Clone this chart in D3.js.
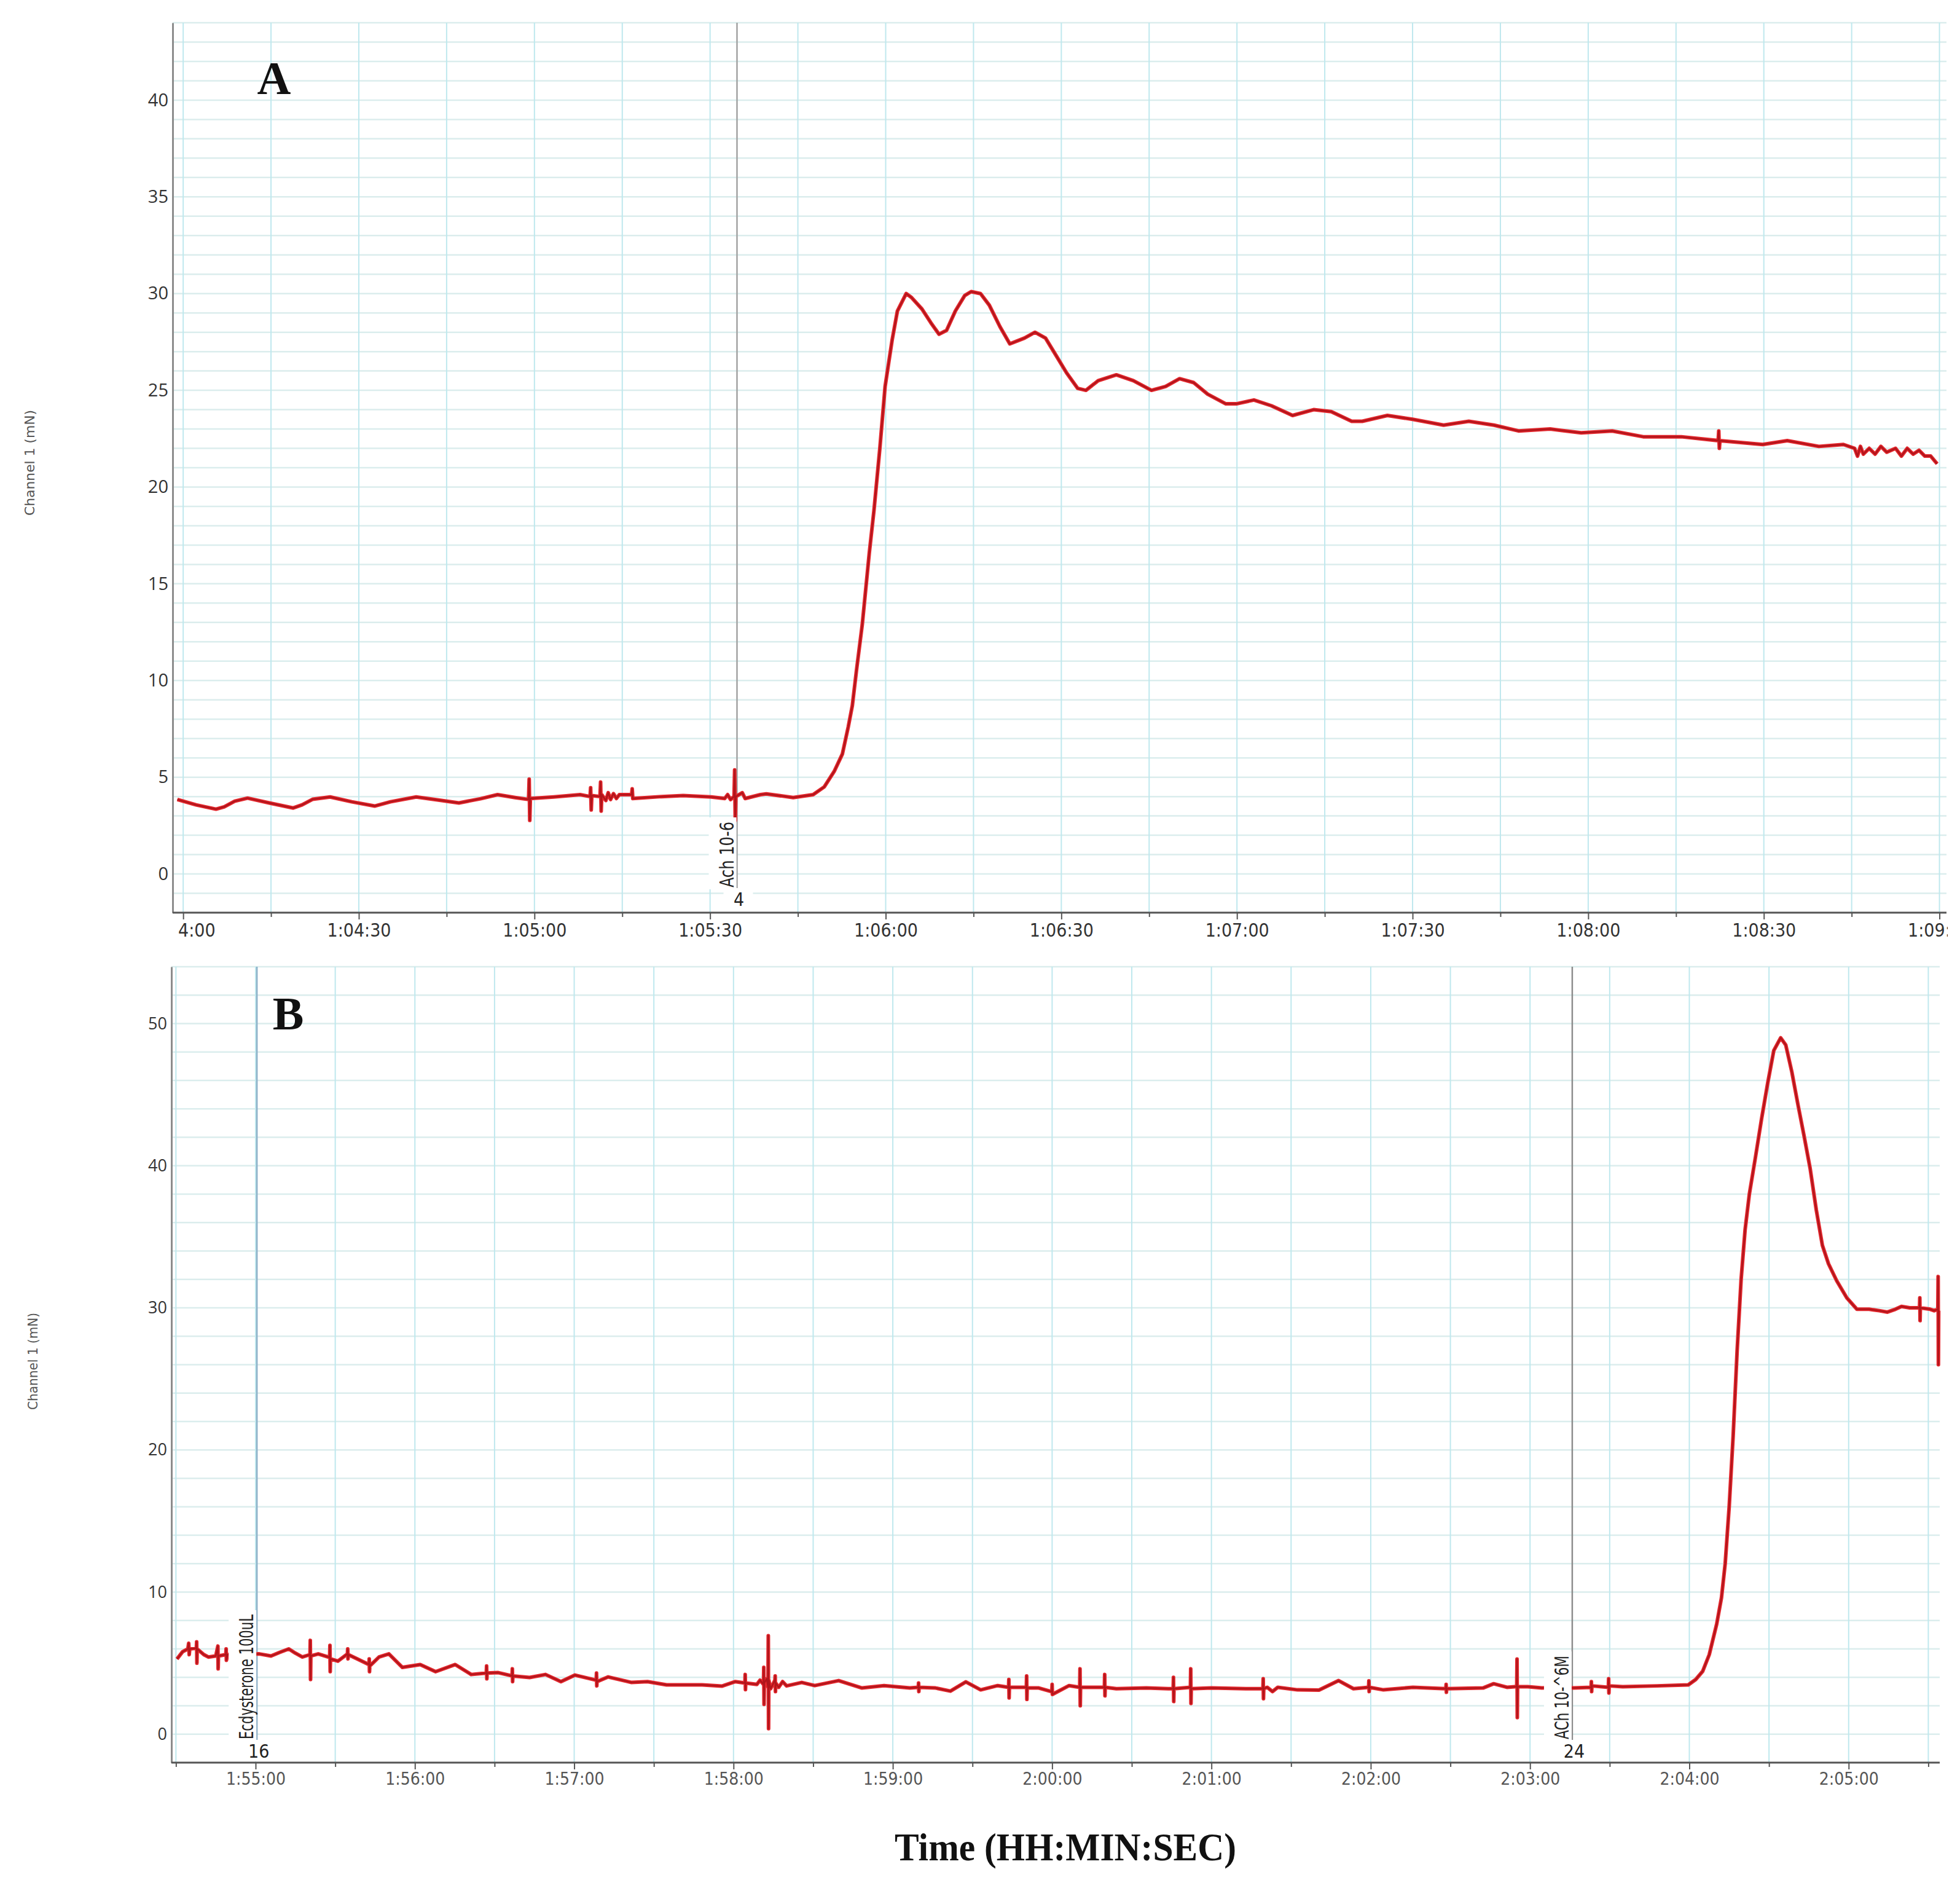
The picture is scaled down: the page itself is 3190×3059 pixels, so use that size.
<!DOCTYPE html>
<html>
<head>
<meta charset="utf-8">
<script src="https://cdn.jsdelivr.net/npm/d3@7"></script>
<style>
  html, body { margin: 0; padding: 0; background: #fff; }
  svg { display: block; }
</style>
</head>
<body>
<script>
// Panel A trace: [seconds after 1:04:00, force mN]
const traceA = [
  [-1.0, 3.85], [2.2, 3.57], [5.6, 3.35], [7.0, 3.47], [8.8, 3.76], [11.0, 3.92], [14.7, 3.67],
  [18.8, 3.41], [20.3, 3.57], [22.1, 3.86], [25.1, 3.98], [28.8, 3.73], [32.7, 3.51], [35.4, 3.73],
  [39.8, 3.98], [43.4, 3.83], [47.1, 3.67], [50.8, 3.89], [53.7, 4.10], [56.7, 3.95],
  [59.0, 3.85], [59.1, 4.9], [59.2, 2.77], [59.3, 3.9], [63.3, 3.98], [66.0, 4.05], [67.8, 4.1],
  [69.5, 4.0], [69.6, 4.46], [69.7, 3.31], [69.8, 4.05], [71.2, 4.0], [71.3, 4.75], [71.4, 3.25],
  [71.5, 4.1], [72.2, 3.8], [72.6, 4.2], [73.0, 3.85], [73.5, 4.15], [74.0, 3.9], [74.5, 4.1],
  [76.6, 4.1], [76.7, 4.4], [76.8, 3.9], [81.7, 4.0], [85.4, 4.05], [90.2, 3.98], [92.5, 3.9],
  [93.0, 4.1], [93.5, 3.85], [94.1, 4.0], [94.2, 5.38], [94.3, 2.77], [94.4, 4.0], [95.5, 4.2],
  [96.0, 3.9], [98.6, 4.1], [99.6, 4.14], [104.2, 3.95], [107.6, 4.1], [109.5, 4.5], [111.2, 5.3],
  [112.6, 6.2], [113.6, 7.6], [114.3, 8.7], [115.0, 10.5], [116.0, 12.9], [117.2, 16.6],
  [118.0, 18.8], [119.0, 22.0], [119.9, 25.2], [121.1, 27.6], [122.0, 29.1], [123.5, 30.0],
  [124.4, 29.8], [126.2, 29.2], [127.7, 28.5], [129.1, 27.9], [130.4, 28.1], [131.9, 29.1],
  [133.5, 29.9], [134.6, 30.1], [136.2, 30.0], [137.7, 29.4], [139.5, 28.3], [141.2, 27.4],
  [143.7, 27.7], [145.5, 28.0], [147.3, 27.7], [149.1, 26.8], [150.9, 25.9], [152.8, 25.1],
  [154.2, 25.0], [156.3, 25.5], [159.4, 25.8], [162.3, 25.5], [165.4, 25.0], [167.8, 25.2],
  [170.2, 25.6], [172.6, 25.4], [175.0, 24.8], [178.1, 24.3], [179.9, 24.3], [182.9, 24.5],
  [185.9, 24.2], [189.5, 23.7], [193.1, 24.0], [196.1, 23.9], [199.6, 23.4], [201.4, 23.4],
  [205.7, 23.7], [210.0, 23.5], [215.3, 23.2], [219.6, 23.4], [223.9, 23.2], [228.1, 22.9],
  [233.5, 23.0], [238.8, 22.8], [244.1, 22.9], [249.4, 22.6], [255.9, 22.6], [262.2, 22.4],
  [262.3, 22.9], [262.4, 22.0], [262.5, 22.4], [269.8, 22.2], [274.0, 22.4], [279.4, 22.1],
  [283.6, 22.2], [285.5, 22.0], [286.0, 21.6], [286.5, 22.1], [287.0, 21.7], [288.0, 22.0],
  [289.0, 21.7], [290.0, 22.1], [291.0, 21.8], [292.5, 22.0], [293.5, 21.6], [294.5, 22.0],
  [295.5, 21.7], [296.5, 21.9], [297.5, 21.6], [298.5, 21.6], [299.6, 21.2]
];

// Panel B trace: [seconds after 1:55:00, force mN]
const traceB = [
  [-29.6, 5.29], [-27.5, 5.8], [-25.5, 6.0], [-25.2, 6.4], [-25.0, 5.6], [-24.8, 6.0],
  [-22.3, 6.05], [-22.2, 6.5], [-22.1, 5.0], [-22.0, 6.0], [-19.5, 5.6], [-17.8, 5.43],
  [-15.0, 5.5], [-14.2, 6.2], [-14.1, 4.6], [-14.0, 5.5], [-11.2, 5.6], [-11.1, 6.0],
  [-11.0, 5.2], [-10.5, 5.6], [-5.0, 5.6], [1.4, 5.65], [5.8, 5.5], [9.0, 5.75], [12.5, 6.0],
  [15.0, 5.7], [17.6, 5.43], [20.5, 5.6], [20.6, 6.6], [20.7, 3.85], [20.8, 5.5], [23.6, 5.65],
  [27.9, 5.4], [28.0, 6.25], [28.1, 4.4], [28.2, 5.3], [31.0, 5.14], [34.6, 5.65], [34.7, 6.0],
  [34.8, 5.3], [34.9, 5.6], [38.4, 5.29], [42.7, 4.9], [42.8, 5.3], [42.9, 4.4], [43.0, 4.8],
  [46.5, 5.43], [50.2, 5.65], [55.3, 4.7], [62.0, 4.9], [67.8, 4.4], [75.2, 4.9], [81.2, 4.2],
  [86.9, 4.3], [87.0, 4.8], [87.1, 3.9], [87.2, 4.3], [91.4, 4.33], [96.6, 4.1], [96.7, 4.6],
  [96.8, 3.7], [96.9, 4.1], [103.2, 3.99], [109.2, 4.2], [115.0, 3.7], [120.3, 4.16],
  [128.3, 3.8], [128.4, 4.3], [128.5, 3.4], [128.6, 3.7], [132.8, 4.03], [141.6, 3.64],
  [147.6, 3.7], [154.8, 3.47], [168.2, 3.47], [175.6, 3.38], [180.7, 3.7], [184.3, 3.6],
  [184.4, 4.2], [184.5, 3.14], [184.6, 3.6], [188.8, 3.5], [190.0, 3.8], [191.3, 3.5],
  [191.4, 4.7], [191.5, 2.1], [191.6, 3.6], [192.5, 3.9], [193.0, 3.3], [193.1, 6.93],
  [193.2, 0.39], [193.3, 3.8], [194.0, 3.2], [195.6, 3.8], [195.7, 4.1], [195.8, 3.0],
  [195.9, 3.6], [197.0, 3.3], [198.5, 3.7], [200.0, 3.4], [205.7, 3.64], [210.6, 3.42],
  [219.6, 3.77], [228.4, 3.25], [236.7, 3.42], [246.4, 3.25], [249.6, 3.3], [249.7, 3.6],
  [249.8, 3.0], [249.9, 3.3], [256.1, 3.25], [261.7, 3.03], [267.5, 3.68], [273.1, 3.12],
  [279.5, 3.42], [283.6, 3.3], [283.7, 3.85], [283.8, 2.55], [283.9, 3.3], [290.3, 3.3],
  [290.4, 4.1], [290.5, 2.45], [290.6, 3.25], [295.0, 3.25], [299.9, 2.99], [300.0, 3.5],
  [300.1, 2.8], [306.4, 3.42], [310.4, 3.3], [310.5, 4.6], [310.6, 2.0], [310.7, 3.3],
  [319.7, 3.3], [319.8, 4.2], [319.9, 2.7], [320.0, 3.3], [324.2, 3.2], [335.5, 3.25],
  [343.8, 3.2], [345.6, 3.2], [345.7, 4.0], [345.8, 2.3], [345.9, 3.2], [352.1, 3.3],
  [352.2, 4.6], [352.3, 2.16], [352.4, 3.2], [360.0, 3.25], [373.0, 3.2], [379.4, 3.2],
  [379.5, 3.9], [379.6, 2.5], [379.7, 3.2], [381.0, 3.3], [383.0, 3.0], [385.0, 3.3],
  [392.4, 3.12], [400.5, 3.1], [407.9, 3.77], [413.5, 3.2], [419.2, 3.3], [419.3, 3.75],
  [419.4, 3.0], [419.5, 3.3], [424.8, 3.12], [435.9, 3.3], [448.3, 3.2], [448.4, 3.5],
  [448.5, 2.95], [448.6, 3.2], [462.3, 3.25], [466.3, 3.55], [471.3, 3.3], [475.0, 3.35],
  [475.1, 5.29], [475.2, 1.17], [475.3, 3.35], [479.2, 3.34], [484.5, 3.25], [490.0, 3.3],
  [496.4, 3.25], [503.0, 3.3], [503.1, 3.7], [503.2, 3.0], [503.3, 3.4], [509.5, 3.3],
  [509.6, 3.9], [509.7, 2.9], [509.8, 3.4], [514.9, 3.34], [527.8, 3.4], [539.6, 3.47],
  [542.4, 3.85], [545.0, 4.42], [547.5, 5.6], [550.3, 7.75], [552.1, 9.6], [553.5, 12.0],
  [555.0, 16.0], [556.5, 21.0], [558.0, 27.0], [559.5, 32.0], [561.0, 35.5], [562.6, 38.0],
  [564.9, 40.6], [567.2, 43.3], [569.5, 45.8], [571.8, 48.1], [574.4, 49.0], [576.3, 48.5],
  [578.6, 46.6], [580.9, 44.3], [583.2, 42.1], [585.5, 39.8], [587.8, 36.9], [590.1, 34.4],
  [592.4, 33.1], [595.5, 31.9], [599.3, 30.7], [603.1, 29.9], [607.7, 29.9], [611.5, 29.8],
  [614.6, 29.7], [617.6, 29.9], [619.9, 30.1], [623.0, 30.0], [626.7, 30.0], [626.8, 30.7],
  [626.9, 29.1], [627.0, 30.0], [630.7, 29.9], [632.2, 29.8], [633.6, 29.9], [633.7, 32.2],
  [633.8, 26.0], [633.9, 29.8]
];

const xLabelsA = ["1:04:00", "1:04:30", "1:05:00", "1:05:30", "1:06:00", "1:06:30",
                  "1:07:00", "1:07:30", "1:08:00", "1:08:30", "1:09:00"];
const xLabelsB = ["1:55:00", "1:56:00", "1:57:00", "1:58:00", "1:59:00", "2:00:00",
                  "2:01:00", "2:02:00", "2:03:00", "2:04:00", "2:05:00"];
const yLabelsA = [0, 5, 10, 15, 20, 25, 30, 35, 40];
const yLabelsB = [0, 10, 20, 30, 40, 50];

// event markers: seconds after panel start
const markersA = [{ t: 94.6, text: "Ach 10-6", num: "4" }];
const markersB = [
  { t: 0.5, text: "Ecdysterone 100uL", num: "16" },
  { t: 495.9, text: "ACh 10-^6M", num: "24" }
];

const condFont = '"DejaVu Sans Condensed", "Liberation Sans Narrow", "DejaVu Sans", sans-serif';
const serifFont = '"Liberation Serif", "DejaVu Serif", serif';

function hms(s) {
  const p = s.split(":").map(Number);
  return p[0] * 3600 + p[1] * 60 + p[2];
}

const svg = d3.select("body").append("svg")
  .attr("width", 3190).attr("height", 3059)
  .attr("viewBox", "0 0 3190 3059");
const defs = svg.append("defs");

function drawPanel(p) {
  const start = hms(p.xLabels[0]);
  const x = d3.scaleLinear().domain([start + p.t0, start + p.t1]).range([p.left, p.right]);
  const y = d3.scaleLinear().domain([p.yMin, p.yMax]).range([p.bottom, p.top]);
  const g = svg.append("g");

  // grid
  const hVals = d3.range(p.yMin + p.yStep, p.yMax + 0.001, p.yStep);
  g.append("g").selectAll("line").data(hVals).join("line")
    .attr("x1", p.left).attr("x2", p.right)
    .attr("y1", d => y(d)).attr("y2", d => y(d))
    .attr("stroke", "#dbeded").attr("stroke-width", 2.5);

  const vVals = d3.range(start - Math.floor(-p.t0 / p.xStep) * p.xStep, start + p.t1, p.xStep)
    .filter(d => x(d) > p.left + 3);
  g.append("g").selectAll("line").data(vVals).join("line")
    .attr("x1", d => x(d)).attr("x2", d => x(d))
    .attr("y1", p.top).attr("y2", p.bottom)
    .attr("stroke", "#bfe8ee").attr("stroke-width", 2);

  // marker lines
  p.markers.forEach((m, i) => {
    const mx = x(start + m.t);
    g.append("line")
      .attr("x1", mx).attr("x2", mx).attr("y1", p.top).attr("y2", p.labelBottom)
      .attr("stroke", p.markerColors[i]).attr("stroke-width", 2.5);
  });

  // trace
  const line = d3.line().x(d => x(start + d[0])).y(d => y(d[1]));
  g.append("path").datum(p.trace).attr("d", line)
    .attr("fill", "none").attr("stroke", "#e3272d").attr("stroke-width", 6)
    .attr("stroke-linejoin", "round");
  g.append("path").datum(p.trace).attr("d", line)
    .attr("fill", "none").attr("stroke", "#b0151b").attr("stroke-width", 2.5)
    .attr("stroke-linejoin", "round");

  // marker labels
  p.markers.forEach((m, i) => {
    const mx = x(start + m.t);
    const len = p.labelLens[i];
    g.append("rect")
      .attr("x", mx - 46).attr("y", p.labelBottom - len - 8)
      .attr("width", 45).attr("height", len + 10).attr("fill", "#fff");
    g.append("text")
      .attr("transform", `translate(${mx - 6},${p.labelBottom - 1}) rotate(-90)`)
      .attr("font-family", condFont).attr("font-size", 32).attr("fill", "#222")
      .attr("textLength", len).attr("lengthAdjust", "spacingAndGlyphs")
      .text(m.text);
    g.append("rect")
      .attr("x", mx - 22).attr("y", p.labelBottom + 1)
      .attr("width", 48).attr("height", 34).attr("fill", "#fff");
    g.append("text")
      .attr("x", mx + 3).attr("y", p.labelBottom + 29)
      .attr("text-anchor", "middle")
      .attr("font-family", condFont).attr("font-size", 30).attr("fill", "#222")
      .text(m.num);
  });

  // y axis
  g.append("g").attr("transform", `translate(${p.left},0)`)
    .call(d3.axisLeft(y).tickValues(p.yLabels).tickSize(0).tickPadding(7))
    .call(a => a.select(".domain").attr("stroke", "#8c8c8c").attr("stroke-width", 3))
    .call(a => a.selectAll("text")
      .attr("font-family", '"Open Sans", "Noto Sans", sans-serif')
      .attr("font-size", p.yFont).attr("fill", "#333"));

  // x axis (clipped like the original export)
  defs.append("clipPath").attr("id", "clip" + p.id).append("rect")
    .attr("x", p.left + p.clipIn).attr("y", p.bottom - 4)
    .attr("width", p.right - p.left - p.clipIn + 2).attr("height", 90);
  const xg = g.append("g").attr("clip-path", `url(#clip${p.id})`);
  const majors = p.xLabels.map(hms);
  xg.append("g").attr("transform", `translate(0,${p.bottom})`)
    .call(d3.axisBottom(x).tickValues(vVals.filter(d => !majors.includes(d)))
      .tickSize(7).tickSizeOuter(0).tickFormat(""))
    .call(a => a.select(".domain").remove())
    .call(a => a.selectAll("line").attr("stroke", "#555").attr("stroke-width", 2));
  xg.append("g").attr("transform", `translate(0,${p.bottom})`)
    .call(d3.axisBottom(x).tickValues(majors).tickSize(11).tickSizeOuter(0)
      .tickPadding(p.xPad).tickFormat((d, i) => p.xLabels[i]))
    .call(a => a.select(".domain").remove())
    .call(a => a.selectAll("line").attr("stroke", "#555").attr("stroke-width", 2))
    .call(a => a.selectAll("text")
      .attr("font-family", condFont).attr("font-size", p.xFont).attr("fill", p.xColor));
  g.append("line")
    .attr("x1", p.left).attr("x2", p.right).attr("y1", p.bottom).attr("y2", p.bottom)
    .attr("stroke", "#555").attr("stroke-width", 3);

  // y title
  svg.append("text")
    .attr("transform", `translate(${p.yTitleX},${p.yTitleY}) rotate(-90)`)
    .attr("text-anchor", "middle")
    .attr("font-family", condFont).attr("font-size", 22).attr("fill", "#555")
    .attr("textLength", p.yTitleLen).attr("lengthAdjust", "spacingAndGlyphs")
    .text("Channel 1 (mN)");

  // panel letter
  svg.append("text")
    .attr("x", p.letterX).attr("y", p.letterY)
    .attr("text-anchor", "middle")
    .attr("font-family", serifFont).attr("font-weight", "bold")
    .attr("font-size", 76).attr("fill", "#111")
    .text(p.id);
}

drawPanel({
  id: "A", trace: traceA, xLabels: xLabelsA, yLabels: yLabelsA, markers: markersA,
  t0: -1.8, t1: 301.2, xStep: 15, yMin: -2, yMax: 44, yStep: 1,
  left: 281, right: 3168, top: 37, bottom: 1485, clipIn: 9,
  labelBottom: 1445, labelLens: [107], markerColors: ["#a3a3a3"],
  yFont: 29, xFont: 30, xPad: 7, xColor: "#333",
  yTitleX: 56, yTitleY: 753, yTitleLen: 172,
  letterX: 446, letterY: 153
});

drawPanel({
  id: "B", trace: traceB, xLabels: xLabelsB, yLabels: yLabelsB, markers: markersB,
  t0: -31.7, t1: 634.3, xStep: 30, yMin: -2, yMax: 54, yStep: 2,
  left: 279, right: 3157, top: 1573, bottom: 2868, clipIn: 2,
  labelBottom: 2831, labelLens: [203, 136], markerColors: ["#8db0c8", "#8c8c8c"],
  yFont: 27, xFont: 28, xPad: 5, xColor: "#555",
  yTitleX: 61, yTitleY: 2215, yTitleLen: 158,
  letterX: 469, letterY: 1675
});

// shared x title
svg.append("text")
  .attr("x", 1734).attr("y", 3027)
  .attr("text-anchor", "middle")
  .attr("font-family", serifFont).attr("font-weight", "bold")
  .attr("font-size", 64).attr("fill", "#111")
  .attr("textLength", 556).attr("lengthAdjust", "spacingAndGlyphs")
  .text("Time (HH:MIN:SEC)");
</script>
</body>
</html>
